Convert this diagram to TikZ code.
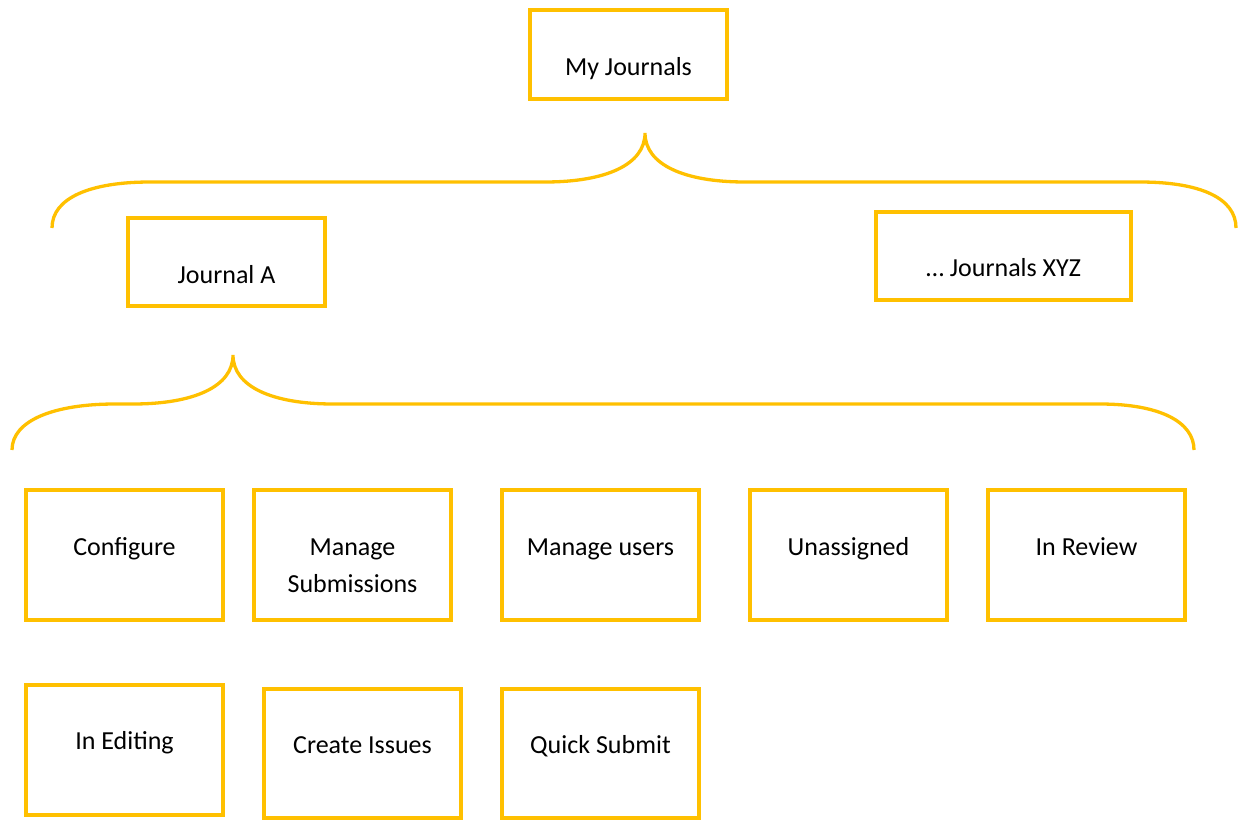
\documentclass[tikz,border=0pt]{standalone}
\usepackage{fontspec}
\setmainfont{Carlito}
\definecolor{gold}{HTML}{FFC000}
\begin{document}
\begin{tikzpicture}[x=1pt,y=-1pt,
  box/.style={draw=gold,line width=3.3pt,minimum width=197pt,inner sep=0pt},
  lbl/.style={anchor=base,inner sep=0pt,font=\fontsize{26}{37}\selectfont,align=center},
  brace/.style={draw=gold,line width=3.3pt}]
\useasboundingbox (0,0) rectangle (1241,819);
% boxes
\node[box,minimum height=89pt] (mj) at (628.5,54.5) {};
\node[lbl] (tmj) at (628.5,75) {My Journals};
\node[box,minimum height=88pt] (ja) at (226.5,262) {};
\node[lbl] (tja) at (226.5,283) {Journal A};
\node[box,minimum width=255pt,minimum height=88pt] (jx) at (1003.5,256) {};
\node[lbl] (tjx) at (1003.5,276) {… Journals XYZ};
\node[box,minimum height=130pt] (cfg) at (124.5,555) {};
\node[lbl] (tcfg) at (124.5,555) {Configure};
\node[box,minimum height=130pt] (ms) at (352.5,555) {};
\node[lbl] (tms) at (352.5,592) {Manage\\Submissions};
\node[box,minimum height=130pt] (mu) at (600.5,555) {};
\node[lbl] (tmu) at (600.5,555) {Manage users};
\node[box,minimum height=130pt] (un) at (848.5,555) {};
\node[lbl] (tun) at (848.5,555) {Unassigned};
\node[box,minimum height=130pt] (ir) at (1086.5,555) {};
\node[lbl] (tir) at (1086.5,555) {In Review};
\node[box,minimum height=130pt] (ie) at (124.5,750) {};
\node[lbl] (tie) at (124.5,749) {In Editing};
\node[box,minimum height=129pt] (ci) at (362.5,753.5) {};
\node[lbl] (tci) at (362.5,753) {Create Issues};
\node[box,minimum height=129pt] (qs) at (600.5,753.5) {};
\node[lbl] (tqs) at (600.5,753) {Quick Submit};
% braces
\coordinate (b1l) at (52,228);
\coordinate (b1c) at (645,133);
\coordinate (b1r) at (1236,228);
\draw[brace] (b1l) .. controls (52,198) and (90,182) .. (150,182) -- (545,182)
  .. controls (605,182) and (645,165) .. (b1c)
  .. controls (645,165) and (685,182) .. (745,182) -- (1140,182)
  .. controls (1200,182) and (1236,198) .. (b1r);
\coordinate (b2l) at (12,450);
\coordinate (b2c) at (233,355);
\coordinate (b2r) at (1194,450);
\draw[brace] (b2l) .. controls (12,420) and (55,404) .. (115,404) -- (133,404)
  .. controls (193,404) and (233,387) .. (b2c)
  .. controls (233,387) and (273,404) .. (333,404) -- (1100,404)
  .. controls (1160,404) and (1194,422) .. (b2r);
\end{tikzpicture}
\end{document}
